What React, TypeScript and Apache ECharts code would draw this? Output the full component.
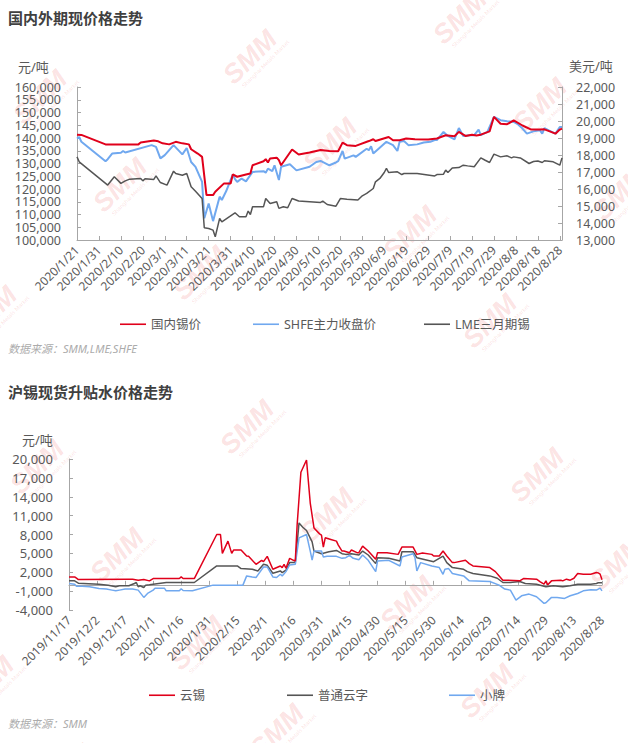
import React, { useEffect, useRef } from 'react';
import * as echarts from 'echarts';

const TOP_BASE = '2020-01-21';
const TOP_END = '2020-08-29';
const BOTTOM_BASE = '2019-11-17';
const BOTTOM_END = '2020-08-28';

const topTickLabels = ['2020/1/21', '2020/1/31', '2020/2/10', '2020/2/20', '2020/3/1', '2020/3/11', '2020/3/21', '2020/3/31', '2020/4/10', '2020/4/20', '2020/4/30', '2020/5/10', '2020/5/20', '2020/5/30', '2020/6/9', '2020/6/19', '2020/6/29', '2020/7/9', '2020/7/19', '2020/7/29', '2020/8/8', '2020/8/18', '2020/8/28'];
const bottomTickLabels = ['2019/11/17', '2019/12/2', '2019/12/17', '2020/1/1', '2020/1/16', '2020/1/31', '2020/2/15', '2020/3/1', '2020/3/16', '2020/3/31', '2020/4/15', '2020/4/30', '2020/5/15', '2020/5/30', '2020/6/14', '2020/6/29', '2020/7/14', '2020/7/29', '2020/8/13', '2020/8/28'];
const bottomYTicks = [-4000, -1000, 2000, 5000, 8000, 11000, 14000, 17000, 20000];

// 国内锡价 (元/吨)
const domesticTin: [string, number][] = [
  ['2020-01-21', 141300], ['2020-01-23', 141200], ['2020-02-03', 137500], ['2020-02-18', 137500], ['2020-02-19', 138200], ['2020-02-25', 139000], ['2020-02-27', 138700], ['2020-02-29', 137900], ['2020-03-03', 137500], ['2020-03-06', 138500], ['2020-03-09', 137900], ['2020-03-12', 137500], ['2020-03-13', 135600], ['2020-03-16', 133900], ['2020-03-18', 132600], ['2020-03-20', 117600], ['2020-03-23', 117600], ['2020-03-24', 118900], ['2020-03-28', 122200], ['2020-03-31', 122200], ['2020-04-01', 125700], ['2020-04-03', 124800], ['2020-04-07', 125700], ['2020-04-09', 126100], ['2020-04-10', 129300], ['2020-04-15', 130900], ['2020-04-16', 131700], ['2020-04-17', 130400], ['2020-04-18', 132000], ['2020-04-21', 132300], ['2020-04-22', 131300], ['2020-04-23', 129300], ['2020-04-28', 135500], ['2020-05-01', 133500], ['2020-05-06', 134300], ['2020-05-11', 135300], ['2020-05-15', 134900], ['2020-05-19', 134800], ['2020-05-21', 138200], ['2020-05-23', 137200], ['2020-05-27', 136900], ['2020-06-02', 138800], ['2020-06-04', 139500], ['2020-06-05', 138800], ['2020-06-11', 140400], ['2020-06-13', 139100], ['2020-06-16', 139100], ['2020-06-19', 139800], ['2020-06-23', 139500], ['2020-06-29', 139400], ['2020-07-03', 139800], ['2020-07-07', 141100], ['2020-07-11', 140700], ['2020-07-13', 142400], ['2020-07-16', 140800], ['2020-07-19', 141300], ['2020-07-21', 141000], ['2020-07-23', 141300], ['2020-07-27', 142600], ['2020-07-29', 148300], ['2020-08-01', 145600], ['2020-08-04', 145400], ['2020-08-07', 146900], ['2020-08-11', 144900], ['2020-08-15', 143300], ['2020-08-19', 143300], ['2020-08-21', 143400], ['2020-08-24', 142400], ['2020-08-26', 141700], ['2020-08-28', 143300], ['2020-08-29', 143700],
];

// SHFE主力收盘价 (元/吨)
const shfeClose: [string, number][] = [
  ['2020-01-21', 139800], ['2020-01-22', 140400], ['2020-01-23', 138500], ['2020-02-03', 130900], ['2020-02-04', 131700], ['2020-02-06', 133900], ['2020-02-10', 134200], ['2020-02-11', 134900], ['2020-02-12', 134300], ['2020-02-24', 137200], ['2020-02-26', 136500], ['2020-02-28', 132000], ['2020-03-01', 133300], ['2020-03-05', 137200], ['2020-03-09', 133600], ['2020-03-11', 136100], ['2020-03-13', 130600], ['2020-03-15', 128700], ['2020-03-18', 122800], ['2020-03-19', 108500], ['2020-03-21', 114300], ['2020-03-23', 107400], ['2020-03-26', 117000], ['2020-03-27', 115700], ['2020-03-29', 119200], ['2020-04-01', 125700], ['2020-04-02', 123900], ['2020-04-03', 122800], ['2020-04-05', 124100], ['2020-04-07', 123000], ['2020-04-10', 126700], ['2020-04-15', 127000], ['2020-04-16', 126400], ['2020-04-17', 128000], ['2020-04-19', 127000], ['2020-04-20', 129300], ['2020-04-22', 123500], ['2020-04-23', 128700], ['2020-04-27', 129700], ['2020-04-30', 127300], ['2020-05-06', 128700], ['2020-05-09', 130600], ['2020-05-11', 131000], ['2020-05-15', 129300], ['2020-05-18', 130400], ['2020-05-19', 130900], ['2020-05-21', 134900], ['2020-05-22', 131900], ['2020-05-26', 133200], ['2020-05-27', 132600], ['2020-06-01', 135800], ['2020-06-02', 135200], ['2020-06-03', 136800], ['2020-06-04', 133900], ['2020-06-10', 138500], ['2020-06-13', 137200], ['2020-06-15', 134900], ['2020-06-16', 138500], ['2020-06-18', 138800], ['2020-06-20', 137200], ['2020-06-24', 137500], ['2020-06-27', 138200], ['2020-06-30', 138500], ['2020-07-02', 139200], ['2020-07-03', 139200], ['2020-07-06', 142400], ['2020-07-08', 140800], ['2020-07-11', 139500], ['2020-07-13', 143900], ['2020-07-15', 140800], ['2020-07-18', 141100], ['2020-07-20', 141100], ['2020-07-22', 143300], ['2020-07-23', 141100], ['2020-07-26', 142400], ['2020-07-29', 148300], ['2020-08-01', 147000], ['2020-08-04', 146600], ['2020-08-07', 146300], ['2020-08-09', 145300], ['2020-08-11', 143700], ['2020-08-13', 141700], ['2020-08-16', 142600], ['2020-08-19', 143000], ['2020-08-20', 141700], ['2020-08-21', 143900], ['2020-08-23', 143000], ['2020-08-26', 141700], ['2020-08-28', 144300], ['2020-08-29', 144300],
];

// LME三月期锡 (美元/吨)
const lmeThreeMonth: [string, number][] = [
  ['2020-01-21', 17890], ['2020-01-22', 17600], ['2020-02-04', 16230], ['2020-02-07', 16720], ['2020-02-10', 16330], ['2020-02-12', 16480], ['2020-02-14', 16580], ['2020-02-19', 16620], ['2020-02-20', 16480], ['2020-02-21', 16600], ['2020-02-25', 16560], ['2020-02-26', 16770], ['2020-02-28', 16380], ['2020-03-02', 16230], ['2020-03-05', 17050], ['2020-03-06', 16910], ['2020-03-09', 16810], ['2020-03-11', 16910], ['2020-03-13', 16130], ['2020-03-15', 15870], ['2020-03-18', 15440], ['2020-03-19', 13720], ['2020-03-21', 13680], ['2020-03-23', 13580], ['2020-03-24', 13190], ['2020-03-26', 14270], ['2020-03-27', 14070], ['2020-04-02', 14600], ['2020-04-04', 14370], ['2020-04-07', 14370], ['2020-04-08', 14700], ['2020-04-09', 14500], ['2020-04-10', 14960], ['2020-04-15', 14960], ['2020-04-16', 15440], ['2020-04-18', 15150], ['2020-04-21', 15250], ['2020-04-22', 14860], ['2020-04-24', 14960], ['2020-04-26', 14900], ['2020-04-28', 15440], ['2020-05-01', 15290], ['2020-05-11', 15210], ['2020-05-12', 15290], ['2020-05-14', 15090], ['2020-05-18', 14990], ['2020-05-20', 15440], ['2020-05-23', 15400], ['2020-05-28', 15350], ['2020-05-30', 15600], ['2020-06-01', 15740], ['2020-06-04', 16030], ['2020-06-05', 16420], ['2020-06-07', 16620], ['2020-06-09', 16970], ['2020-06-10', 17210], ['2020-06-11', 16970], ['2020-06-15', 17010], ['2020-06-17', 16850], ['2020-06-18', 16910], ['2020-06-24', 16910], ['2020-07-02', 16770], ['2020-07-03', 16850], ['2020-07-06', 16870], ['2020-07-07', 17110], ['2020-07-08', 16970], ['2020-07-10', 17240], ['2020-07-13', 17260], ['2020-07-15', 17400], ['2020-07-17', 17360], ['2020-07-20', 17310], ['2020-07-23', 17830], ['2020-07-25', 17690], ['2020-07-27', 17560], ['2020-07-29', 18050], ['2020-08-01', 17890], ['2020-08-04', 17950], ['2020-08-06', 17830], ['2020-08-07', 17890], ['2020-08-10', 17830], ['2020-08-14', 17500], ['2020-08-16', 17620], ['2020-08-18', 17650], ['2020-08-20', 17560], ['2020-08-21', 17660], ['2020-08-25', 17600], ['2020-08-28', 17400], ['2020-08-29', 17830],
];

// 云锡 升贴水 (元/吨)
const yunxi: [string, number][] = [
  ['2019-11-17', 1260], ['2019-11-20', 1260], ['2019-11-21', 1050], ['2019-11-22', 840], ['2019-12-19', 900], ['2019-12-21', 900], ['2019-12-24', 740], ['2019-12-27', 840], ['2019-12-30', 630], ['2020-01-01', 1000], ['2020-01-15', 1000], ['2020-01-16', 1260], ['2020-01-17', 1000], ['2020-01-23', 1000], ['2020-02-04', 8000], ['2020-02-06', 8000], ['2020-02-07', 5000], ['2020-02-10', 6950], ['2020-02-12', 5000], ['2020-02-13', 5530], ['2020-02-17', 5530], ['2020-02-20', 4580], ['2020-02-21', 4530], ['2020-02-25', 3260], ['2020-02-28', 3900], ['2020-02-29', 3680], ['2020-03-02', 4530], ['2020-03-05', 2470], ['2020-03-09', 3000], ['2020-03-10', 2740], ['2020-03-11', 3260], ['2020-03-12', 2630], ['2020-03-14', 4210], ['2020-03-16', 3900], ['2020-03-17', 3790], ['2020-03-18', 9580], ['2020-03-20', 17900], ['2020-03-23', 19840], ['2020-03-25', 13000], ['2020-03-27', 9050], ['2020-03-30', 8100], ['2020-03-31', 7900], ['2020-04-01', 6000], ['2020-04-02', 7470], ['2020-04-05', 7210], ['2020-04-08', 6950], ['2020-04-09', 6320], ['2020-04-11', 5370], ['2020-04-12', 5370], ['2020-04-15', 5110], ['2020-04-16', 5530], ['2020-04-19', 5110], ['2020-04-20', 5110], ['2020-04-22', 6160], ['2020-04-25', 5370], ['2020-04-29', 4050], ['2020-04-30', 5110], ['2020-05-05', 5110], ['2020-05-11', 4840], ['2020-05-13', 6000], ['2020-05-19', 6000], ['2020-05-21', 4840], ['2020-05-24', 5050], ['2020-05-29', 4840], ['2020-05-30', 4580], ['2020-06-02', 4580], ['2020-06-04', 5370], ['2020-06-06', 4580], ['2020-06-09', 3530], ['2020-06-10', 3530], ['2020-06-16', 3900], ['2020-06-18', 3370], ['2020-06-20', 3000], ['2020-06-29', 2740], ['2020-07-02', 2100], ['2020-07-04', 1420], ['2020-07-06', 740], ['2020-07-08', 740], ['2020-07-15', 630], ['2020-07-17', 1000], ['2020-07-24', 900], ['2020-07-26', 470], ['2020-07-28', 100], ['2020-07-29', 630], ['2020-07-30', 0], ['2020-08-01', 630], ['2020-08-06', 740], ['2020-08-07', 630], ['2020-08-09', 900], ['2020-08-11', 740], ['2020-08-13', 1050], ['2020-08-15', 1790], ['2020-08-18', 1680], ['2020-08-22', 1680], ['2020-08-25', 1950], ['2020-08-26', 1900], ['2020-08-27', 1700], ['2020-08-28', 800],
];

// 普通云字 升贴水 (元/吨)
const putongYunzi: [string, number][] = [
  ['2019-11-17', 630], ['2019-11-20', 630], ['2019-11-22', 260], ['2019-12-03', 100], ['2019-12-08', -50], ['2019-12-12', -300], ['2019-12-14', -150], ['2019-12-19', -150], ['2019-12-22', 210], ['2019-12-23', 370], ['2019-12-24', -300], ['2019-12-25', -150], ['2019-12-27', -420], ['2019-12-28', -50], ['2019-12-30', 0], ['2020-01-08', 370], ['2020-01-23', 370], ['2020-02-04', 3000], ['2020-02-15', 3000], ['2020-02-17', 2580], ['2020-02-23', 2470], ['2020-02-26', 2210], ['2020-02-29', 3260], ['2020-03-02', 3100], ['2020-03-05', 1840], ['2020-03-09', 2210], ['2020-03-10', 1950], ['2020-03-12', 2320], ['2020-03-14', 3530], ['2020-03-17', 3530], ['2020-03-19', 9840], ['2020-03-21', 9160], ['2020-03-23', 8630], ['2020-03-26', 6840], ['2020-03-27', 5370], ['2020-03-31', 4950], ['2020-04-04', 5260], ['2020-04-08', 5470], ['2020-04-11', 4950], ['2020-04-13', 4840], ['2020-04-16', 4950], ['2020-04-20', 4740], ['2020-04-22', 5370], ['2020-04-25', 4740], ['2020-04-29', 3370], ['2020-04-30', 4320], ['2020-05-06', 4210], ['2020-05-12', 3790], ['2020-05-13', 5260], ['2020-05-19', 5260], ['2020-05-21', 4320], ['2020-05-30', 3680], ['2020-06-04', 4580], ['2020-06-06', 3530], ['2020-06-09', 2740], ['2020-06-15', 2470], ['2020-06-17', 2100], ['2020-06-20', 1790], ['2020-06-29', 1420], ['2020-07-03', 1050], ['2020-07-06', 370], ['2020-07-10', 370], ['2020-07-15', 530], ['2020-07-18', 210], ['2020-07-24', 100], ['2020-07-29', -320], ['2020-08-02', -160], ['2020-08-07', -320], ['2020-08-11', -160], ['2020-08-15', 100], ['2020-08-22', 100], ['2020-08-25', 210], ['2020-08-26', 320], ['2020-08-28', 320],
];

// 小牌 升贴水 (元/吨)
const xiaopai: [string, number][] = [
  ['2019-11-17', 210], ['2019-11-20', 100], ['2019-11-21', -210], ['2019-11-24', -210], ['2019-11-28', -320], ['2019-12-03', -580], ['2019-12-07', -680], ['2019-12-10', -840], ['2019-12-12', -950], ['2019-12-14', -840], ['2019-12-17', -680], ['2019-12-21', -680], ['2019-12-24', -840], ['2019-12-27', -2000], ['2019-12-29', -1370], ['2020-01-01', -840], ['2020-01-02', -530], ['2020-01-07', -530], ['2020-01-08', -950], ['2020-01-15', -950], ['2020-01-16', -630], ['2020-01-17', -900], ['2020-01-22', -950], ['2020-02-02', -50], ['2020-02-18', -50], ['2020-02-20', 1420], ['2020-02-23', 1260], ['2020-02-25', 1160], ['2020-02-26', 1580], ['2020-02-29', 2840], ['2020-03-02', 2840], ['2020-03-05', 1260], ['2020-03-07', 1160], ['2020-03-09', 1680], ['2020-03-10', 1420], ['2020-03-12', 2100], ['2020-03-14', 3160], ['2020-03-17', 3260], ['2020-03-19', 7470], ['2020-03-23', 8000], ['2020-03-25', 5370], ['2020-03-26', 3950], ['2020-03-27', 5370], ['2020-03-31', 5370], ['2020-04-01', 4420], ['2020-04-03', 4530], ['2020-04-08', 4530], ['2020-04-11', 4210], ['2020-04-13', 4320], ['2020-04-15', 4690], ['2020-04-17', 4210], ['2020-04-20', 4000], ['2020-04-22', 4740], ['2020-04-25', 3900], ['2020-04-29', 2100], ['2020-04-30', 3790], ['2020-05-06', 3900], ['2020-05-12', 3000], ['2020-05-13', 4420], ['2020-05-19', 4950], ['2020-05-20', 4320], ['2020-05-21', 2210], ['2020-05-23', 3530], ['2020-05-29', 3000], ['2020-06-02', 2740], ['2020-06-04', 1680], ['2020-06-05', 2470], ['2020-06-07', 2580], ['2020-06-09', 1790], ['2020-06-15', 1420], ['2020-06-18', 630], ['2020-06-29', 520], ['2020-07-04', -50], ['2020-07-07', -680], ['2020-07-10', -840], ['2020-07-13', -2420], ['2020-07-16', -1740], ['2020-07-20', -1470], ['2020-07-24', -1900], ['2020-07-28', -2950], ['2020-07-29', -2840], ['2020-08-01', -2000], ['2020-08-04', -2000], ['2020-08-08', -2160], ['2020-08-11', -1740], ['2020-08-15', -1370], ['2020-08-18', -950], ['2020-08-22', -790], ['2020-08-25', -840], ['2020-08-27', -530], ['2020-08-28', -950],
];

const FONT = '"Noto Sans", "Noto Sans CJK SC", sans-serif';
const LABEL = '#595959';
const AXIS = '#a6a6a6';
const RED = '#e0001b';
const BLUE = '#70a8ef';
const GRAY = '#555555';

function toUTC(s: string) {
  const [y, m, d] = s.split(/[-/]/).map(Number);
  return Date.UTC(y, m - 1, d);
}
function dayOffset(base: string, d: string) {
  return Math.round((toUTC(d) - toUTC(base)) / 86400000);
}
function toXY(base: string, rows: [string, number][]) {
  return rows.map(([d, v]) => [dayOffset(base, d), v]);
}

const topTickValues = topTickLabels.map((l) => dayOffset(TOP_BASE, l));
const bottomTickValues = bottomTickLabels.map((l) => dayOffset(BOTTOM_BASE, l));

function watermarks(ax: number, ay: number, yMin: number, yMax: number) {
  const out: any[] = [];
  for (let i = -3; i <= 4; i++) {
    for (let j = -4; j <= 4; j++) {
      const x = ax + i * 210 + j * 80;
      const y = ay - i * 40 + j * 88;
      if (x < -40 || x > 670 || y < yMin || y > yMax) continue;
      out.push({
        type: 'group',
        x,
        y,
        rotation: Math.PI / 4,
        silent: true,
        children: [
          {
            type: 'text',
            x: 0,
            y: 0,
            style: { text: 'SMM', align: 'center', verticalAlign: 'middle', fontSize: 27, fontWeight: 'bold', fontStyle: 'italic', fontFamily: '"Liberation Sans", sans-serif', fill: 'rgba(232,50,50,0.15)' },
          },
          {
            type: 'text',
            x: 6,
            y: 16,
            style: { text: 'Shanghai Metals Market', align: 'center', verticalAlign: 'middle', fontSize: 6, fontFamily: '"Liberation Sans", sans-serif', fill: 'rgba(232,50,50,0.15)' },
          },
        ],
      });
    }
  }
  return out;
}

function textEl(text: string, x: number, y: number, extra: any) {
  return { type: 'text', x, y, style: { text, fontFamily: FONT, verticalAlign: 'middle', ...extra } };
}

export default function App() {
  const ref = useRef<HTMLDivElement>(null);
  useEffect(() => {
    if (!ref.current) return;
    const chart = echarts.init(ref.current, undefined, { renderer: 'svg' });
    const legendBase = {
      icon: 'rect',
      itemWidth: 26,
      itemHeight: 1.6,
      itemGap: 10,
      textStyle: { fontSize: 12.5, color: LABEL, fontFamily: FONT },
    };
    const xLabel = { rotate: 45, fontSize: 12, color: LABEL, fontFamily: FONT, margin: 8 };
    const yLabel = { fontSize: 12.5, lineHeight: 12, color: LABEL, fontFamily: FONT, showMinLabel: true, showMaxLabel: true, hideOverlap: false, formatter: (v: number) => v.toLocaleString('en-US') };
    const option: any = {
      animation: false,
      backgroundColor: '#ffffff',
      grid: [
        { left: 77, top: 87, width: 485, height: 153 },
        { left: 69, top: 459, width: 533, height: 151 },
      ],
      xAxis: [
        {
          type: 'value',
          gridIndex: 0,
          min: 0,
          max: dayOffset(TOP_BASE, TOP_END),
          position: 'bottom',
          axisLine: { show: true, onZero: false, lineStyle: { color: AXIS, width: 1 } },
          axisTick: { show: true, inside: true, length: 4, lineStyle: { color: AXIS }, customValues: topTickValues },
          axisLabel: {
            ...xLabel,
            customValues: topTickValues,
            formatter: (v: number) => topTickLabels[topTickValues.indexOf(Math.round(v))] ?? '',
          },
          splitLine: { show: false },
        },
        {
          type: 'value',
          gridIndex: 1,
          min: 0,
          max: dayOffset(BOTTOM_BASE, BOTTOM_END),
          position: 'bottom',
          axisLine: { show: true, onZero: true, lineStyle: { color: AXIS, width: 1 } },
          axisTick: { show: true, inside: true, length: 4, lineStyle: { color: AXIS }, customValues: bottomTickValues },
          axisLabel: { show: false },
          splitLine: { show: false },
        },
        {
          type: 'value',
          gridIndex: 1,
          min: 0,
          max: dayOffset(BOTTOM_BASE, BOTTOM_END),
          position: 'bottom',
          axisLine: { show: false, onZero: false },
          axisTick: { show: false },
          axisLabel: {
            ...xLabel,
            customValues: bottomTickValues,
            formatter: (v: number) => bottomTickLabels[bottomTickValues.indexOf(Math.round(v))] ?? '',
          },
          splitLine: { show: false },
        },
      ],
      yAxis: [
        {
          type: 'value',
          gridIndex: 0,
          position: 'left',
          min: 100000,
          max: 160000,
          interval: 5000,
          axisLine: { show: true, lineStyle: { color: AXIS } },
          axisTick: { show: true, inside: true, length: 4, lineStyle: { color: AXIS } },
          axisLabel: { ...yLabel, margin: 16 },
          splitLine: { show: false },
        },
        {
          type: 'value',
          gridIndex: 0,
          position: 'right',
          min: 13000,
          max: 22000,
          interval: 1000,
          axisLine: { show: true, lineStyle: { color: AXIS } },
          axisTick: { show: true, inside: true, length: 4, lineStyle: { color: AXIS } },
          axisLabel: { ...yLabel, margin: 14 },
          splitLine: { show: false },
        },
        {
          type: 'value',
          gridIndex: 1,
          position: 'left',
          min: -4000,
          max: 20000,
          axisLine: { show: true, lineStyle: { color: AXIS } },
          axisTick: { show: true, inside: true, length: 4, lineStyle: { color: AXIS }, customValues: bottomYTicks },
          axisLabel: { ...yLabel, fontSize: 13, lineHeight: 14, margin: 16, customValues: bottomYTicks },
          splitLine: { show: false },
        },
      ],
      legend: [
        { ...legendBase, data: ['国内锡价'], left: 115, top: 313 },
        { ...legendBase, data: ['SHFE主力收盘价'], left: 248, top: 313 },
        { ...legendBase, data: ['LME三月期锡'], left: 419, top: 313 },
        { ...legendBase, data: ['云锡'], left: 144, top: 684 },
        { ...legendBase, data: ['普通云字'], left: 282, top: 684 },
        { ...legendBase, data: ['小牌'], left: 444, top: 684 },
      ],
      graphic: {
        elements: [
          ...watermarks(120, 185, -40, 340),
          ...watermarks(117, 555, 400, 790),
          textEl('国内外期现价格走势', 8, 17.5, { fontSize: 15, fontWeight: 'bold', fill: '#404040' }),
          textEl('元/吨', 18, 67, { fontSize: 13, fill: LABEL }),
          textEl('美元/吨', 569, 66, { fontSize: 13, fill: LABEL }),
          textEl('数据来源：SMM,LME,SHFE', 8, 348, { fontSize: 11, fontStyle: 'italic', fill: '#ababab' }),
          textEl('沪锡现货升贴水价格走势', 8, 391.5, { fontSize: 15, fontWeight: 'bold', fill: '#404040' }),
          textEl('元/吨', 22, 440, { fontSize: 13, fill: LABEL }),
          textEl('数据来源：SMM', 8, 723, { fontSize: 11, fontStyle: 'italic', fill: '#ababab' }),
        ],
      },
      series: [
        { name: '国内锡价', type: 'line', xAxisIndex: 0, yAxisIndex: 0, symbol: 'none', lineStyle: { color: RED, width: 2 }, itemStyle: { color: RED }, data: toXY(TOP_BASE, domesticTin), z: 4 },
        { name: 'SHFE主力收盘价', type: 'line', xAxisIndex: 0, yAxisIndex: 0, symbol: 'none', lineStyle: { color: BLUE, width: 2 }, itemStyle: { color: BLUE }, data: toXY(TOP_BASE, shfeClose), z: 3 },
        { name: 'LME三月期锡', type: 'line', xAxisIndex: 0, yAxisIndex: 1, symbol: 'none', lineStyle: { color: GRAY, width: 1.5 }, itemStyle: { color: GRAY }, data: toXY(TOP_BASE, lmeThreeMonth), z: 3 },
        { name: '云锡', type: 'line', xAxisIndex: 1, yAxisIndex: 2, symbol: 'none', lineStyle: { color: RED, width: 1.5 }, itemStyle: { color: RED }, data: toXY(BOTTOM_BASE, yunxi), z: 4 },
        { name: '普通云字', type: 'line', xAxisIndex: 1, yAxisIndex: 2, symbol: 'none', lineStyle: { color: GRAY, width: 1.5 }, itemStyle: { color: GRAY }, data: toXY(BOTTOM_BASE, putongYunzi), z: 3 },
        { name: '小牌', type: 'line', xAxisIndex: 1, yAxisIndex: 2, symbol: 'none', lineStyle: { color: BLUE, width: 1.5 }, itemStyle: { color: BLUE }, data: toXY(BOTTOM_BASE, xiaopai), z: 3 },
      ],
    };
    chart.setOption(option);
    return () => chart.dispose();
  }, []);
  return <div ref={ref} style={{ position: 'fixed', left: 0, top: 0, width: 628, height: 743, background: '#fff' }} />;
}
